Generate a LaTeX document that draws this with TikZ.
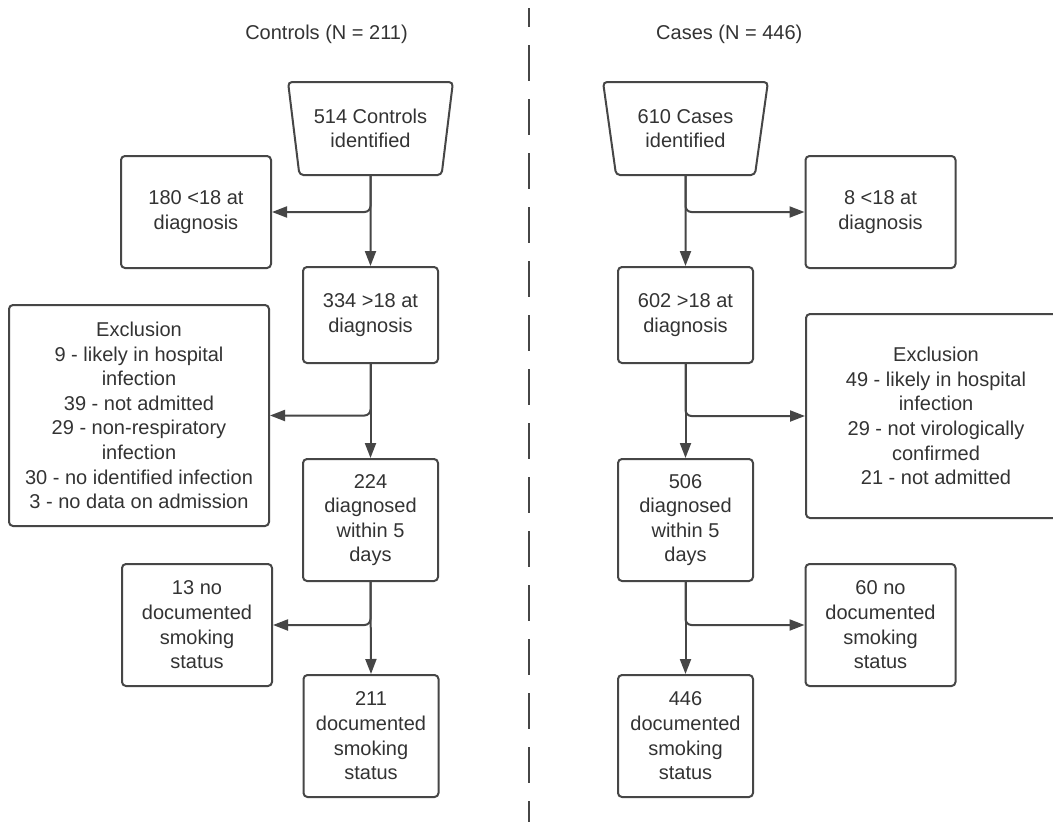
\documentclass[tikz,border=0pt]{standalone}
\usepackage{fontspec}
\setmainfont{Liberation Sans}
\usetikzlibrary{shapes.geometric,arrows.meta}
\definecolor{linec}{HTML}{464646}
\definecolor{textc}{HTML}{333333}
\tikzset{
  boxnode/.style={draw=linec, line width=2pt, rounded corners=4pt, align=center, inner sep=0pt,
    text=textc, font=\fontsize{20}{24.6}\selectfont},
  trapnode/.style={boxnode, trapezium, trapezium stretches=true, trapezium angle=77,
    shape border rotate=180, minimum width=165pt, minimum height=93pt},
  titlenode/.style={text=textc, font=\fontsize{20}{24.6}\selectfont, inner sep=0pt},
  flowarrow/.style={draw=linec, line width=2pt, -{Triangle[length=15pt,width=11pt]}},
  branch/.style={flowarrow, rounded corners=6pt},
  divider/.style={draw=linec, line width=2pt, dash pattern=on 36pt off 18pt, dash phase=17pt}
}
\begin{document}
\begin{tikzpicture}[x=1pt,y=-1pt]
\useasboundingbox (0,0) rectangle (1053,822);
\clip (0,0) rectangle (1053,822);
\fill[white] (0,0) rectangle (1053,822);

% titles
\node[titlenode] (tctl) at (326.5,34) {Controls (N = 211)};
\node[titlenode, anchor=west] (tcas) at (656,34) {Cases (N = 446)};

% divider
\coordinate (dtop) at (529,8);
\coordinate (dbot) at (529,822);
\draw[divider] (dtop) -- (dbot);

% controls column
\node[trapnode] (t1) at (370.5,128.5) {514 Controls\\identified};
\node[boxnode, minimum width=150pt, minimum height=112pt] (b180) at (196,212) {180 <18 at\\diagnosis};
\node[boxnode, minimum width=135pt, minimum height=96pt] (b334) at (370.5,315) {334 >18 at\\diagnosis};
\node[boxnode, minimum width=260pt, minimum height=221pt] (ex1) at (139,415.5) {Exclusion\\9 - likely in hospital\\infection\\39 - not admitted\\29 - non-respiratory\\infection\\30 - no identified infection\\3 - no data on admission};
\node[boxnode, minimum width=135pt, minimum height=122pt] (b224) at (370.5,520) {224\\diagnosed\\within 5\\days};
\node[boxnode, minimum width=150pt, minimum height=122pt] (b13) at (197,625) {13 no\\documented\\smoking\\status};
\node[boxnode, minimum width=135pt, minimum height=122pt] (b211) at (371,736) {211\\documented\\smoking\\status};

% cases column
\node[trapnode] (t2) at (685.5,128.5) {610 Cases\\identified};
\node[boxnode, minimum width=150pt, minimum height=112pt] (b8) at (880.5,212) {8 <18 at\\diagnosis};
\node[boxnode, minimum width=135pt, minimum height=96pt] (b602) at (685.5,315) {602 >18 at\\diagnosis};
\node[boxnode, minimum width=260pt, minimum height=204pt] (ex2) at (936,416) {Exclusion\\49 - likely in hospital\\infection\\29 - not virologically\\confirmed\\21 - not admitted};
\node[boxnode, minimum width=135pt, minimum height=122pt] (b506) at (685.5,520) {506\\diagnosed\\within 5\\days};
\node[boxnode, minimum width=150pt, minimum height=122pt] (b60) at (880.5,625) {60 no\\documented\\smoking\\status};
\node[boxnode, minimum width=135pt, minimum height=122pt] (b446) at (685.5,736) {446\\documented\\smoking\\status};

% controls connectors
\draw[flowarrow] (t1.south) -- (b334.north);
\draw[branch] (t1.south) |- (b180.east);
\draw[flowarrow] (b334.south) -- (b224.north);
\draw[branch] (b334.south) |- (ex1.east);
\draw[flowarrow] (b224.south) -- (b211.north);
\draw[branch] (b224.south) |- (b13.east);

% cases connectors
\draw[flowarrow] (t2.south) -- (b602.north);
\draw[branch] (t2.south) |- (b8.west);
\draw[flowarrow] (b602.south) -- (b506.north);
\draw[branch] (b602.south) |- (ex2.west);
\draw[flowarrow] (b506.south) -- (b446.north);
\draw[branch] (b506.south) |- (b60.west);
\end{tikzpicture}
\end{document}
